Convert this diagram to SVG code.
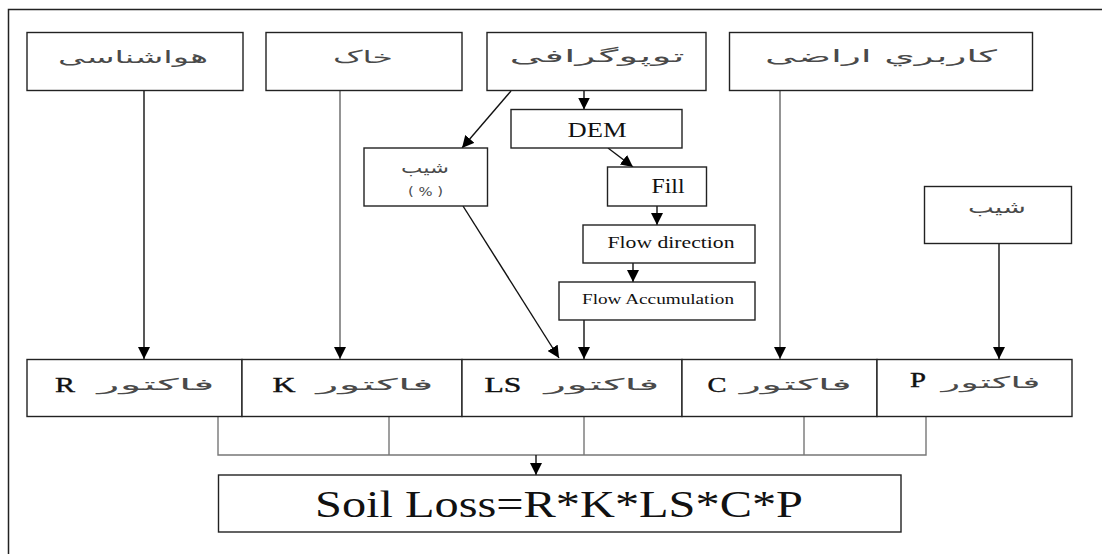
<svg xmlns="http://www.w3.org/2000/svg" width="1102" height="554" viewBox="0 0 1102 554">
<style>
.box{fill:#fff;stroke:#222;stroke-width:1.4}
.fa{font-family:"DejaVu Sans","Noto Sans",sans-serif;fill:#4a4a4a;text-anchor:middle}
.la{font-family:"Liberation Serif","Times New Roman",serif;fill:#111;text-anchor:middle}
.lb{font-family:"Liberation Serif","Times New Roman",serif;fill:#111;text-anchor:middle;stroke:#111;stroke-width:0.4}
.lg{fill:none;stroke:#777;stroke-width:1.4}
.ar{fill:none;stroke:#111;stroke-width:1.4;marker-end:url(#ah)}
.arg{fill:none;stroke:#666;stroke-width:1.4;marker-end:url(#ah)}
</style>
<defs>
<marker id="ah" markerWidth="12" markerHeight="12" refX="12" refY="6" orient="auto" markerUnits="userSpaceOnUse">
<path d="M0,0 L12,6 L0,12 z" fill="#000"/>
</marker>
</defs>
<rect width="1102" height="554" fill="#fff"/>
<path d="M8.5,560 L8.5,9.5 L1110,9.5" fill="none" stroke="#222" stroke-width="1.5"/>

<g id="connectors">
<path class="ar" d="M144,91 L144,359"/>
<path class="arg" d="M340,91 L340,359"/>
<path class="arg" d="M780,91 L780,359"/>
<path class="ar" d="M999,243 L999,359"/>
<path class="ar" d="M511,91 L462,148"/>
<path class="ar" d="M584,91 L584,109.5"/>
<path class="ar" d="M608,148 L633,167"/>
<path class="ar" d="M657,206 L657,225"/>
<path class="ar" d="M633,263 L633,282"/>
<path class="ar" d="M584,320 L584,359"/>
<path class="ar" d="M463,206 L559,358"/>
<path class="lg" d="M218,416 L218,455 L926,455 L926,416 M389,416 L389,455 M584,416 L584,455 M804,416 L804,455"/>
<path class="ar" d="M536,455 L536,475"/>
</g>

<g id="n-meteorology">
<rect class="box" x="27" y="32.5" width="216" height="58"/>
<text class="fa" x="133" y="63" font-size="17" textLength="150" lengthAdjust="spacingAndGlyphs">هواشناسی</text>
</g>
<g id="n-soil">
<rect class="box" x="266" y="32.5" width="196" height="58"/>
<text class="fa" x="363" y="63" font-size="17" textLength="60" lengthAdjust="spacingAndGlyphs">خاک</text>
</g>
<g id="n-topography">
<rect class="box" x="487" y="32.5" width="219" height="58"/>
<text class="fa" x="597" y="62" font-size="17" textLength="175" lengthAdjust="spacingAndGlyphs">توپوگرافی</text>
</g>
<g id="n-landuse">
<rect class="box" x="729.5" y="32.5" width="303" height="58"/>
<text class="fa" x="881" y="62" font-size="17" textLength="232" lengthAdjust="spacingAndGlyphs">کاربري اراضی</text>
</g>
<g id="n-slope-pct">
<rect class="box" x="364" y="148" width="123.5" height="58"/>
<text class="fa" x="425" y="173" font-size="16" textLength="48" lengthAdjust="spacingAndGlyphs">شیب</text>
<text class="fa" x="425.5" y="196" font-size="12" textLength="35" lengthAdjust="spacingAndGlyphs">( % )</text>
</g>
<g id="n-dem">
<rect class="box" x="511" y="109.5" width="171" height="38.5"/>
<text class="la" x="597" y="137" font-size="22" textLength="59" lengthAdjust="spacingAndGlyphs">DEM</text>
</g>
<g id="n-fill">
<rect class="box" x="607.5" y="167" width="99" height="39"/>
<text class="la" x="668" y="193" font-size="20" textLength="33" lengthAdjust="spacingAndGlyphs">Fill</text>
</g>
<g id="n-flowdir">
<rect class="box" x="583" y="225" width="172" height="38"/>
<text class="la" x="671" y="248" font-size="17" textLength="127" lengthAdjust="spacingAndGlyphs">Flow direction</text>
</g>
<g id="n-flowacc">
<rect class="box" x="559" y="282" width="196" height="38"/>
<text class="la" x="658" y="304" font-size="15" textLength="152" lengthAdjust="spacingAndGlyphs">Flow Accumulation</text>
</g>
<g id="n-slope">
<rect class="box" x="924.5" y="186.5" width="147" height="57"/>
<text class="fa" x="997" y="213" font-size="17" textLength="58" lengthAdjust="spacingAndGlyphs">شیب</text>
</g>

<g id="n-factor-r">
<rect class="box" x="27" y="359.5" width="215" height="57"/>
<text class="lb" x="65" y="392" font-size="22" textLength="20" lengthAdjust="spacingAndGlyphs">R</text>
<text class="fa" x="156" y="390" font-size="16" textLength="117" lengthAdjust="spacingAndGlyphs">فاکتور</text>
</g>
<g id="n-factor-k">
<rect class="box" x="242" y="359.5" width="220" height="57"/>
<text class="lb" x="284" y="392" font-size="22" textLength="23" lengthAdjust="spacingAndGlyphs">K</text>
<text class="fa" x="375" y="390" font-size="16" textLength="117" lengthAdjust="spacingAndGlyphs">فاکتور</text>
</g>
<g id="n-factor-ls">
<rect class="box" x="462" y="359.5" width="220" height="57"/>
<text class="lb" x="503" y="392" font-size="22" textLength="37" lengthAdjust="spacingAndGlyphs">LS</text>
<text class="fa" x="602" y="390" font-size="16" textLength="115" lengthAdjust="spacingAndGlyphs">فاکتور</text>
</g>
<g id="n-factor-c">
<rect class="box" x="682" y="359.5" width="195" height="57"/>
<text class="lb" x="717" y="392" font-size="22" textLength="19" lengthAdjust="spacingAndGlyphs">C</text>
<text class="fa" x="796" y="390" font-size="16" textLength="112" lengthAdjust="spacingAndGlyphs">فاکتور</text>
</g>
<g id="n-factor-p">
<rect class="box" x="877" y="359.5" width="195" height="57"/>
<text class="lb" x="918" y="387" font-size="22" textLength="16" lengthAdjust="spacingAndGlyphs">P</text>
<text class="fa" x="991" y="388" font-size="16" textLength="99" lengthAdjust="spacingAndGlyphs">فاکتور</text>
</g>

<g id="n-soilloss">
<rect class="box" x="218.5" y="475" width="682.5" height="57"/>
<text class="la" x="559" y="517" font-size="38" textLength="488" lengthAdjust="spacingAndGlyphs">Soil Loss=R*K*LS*C*P</text>
</g>
</svg>
